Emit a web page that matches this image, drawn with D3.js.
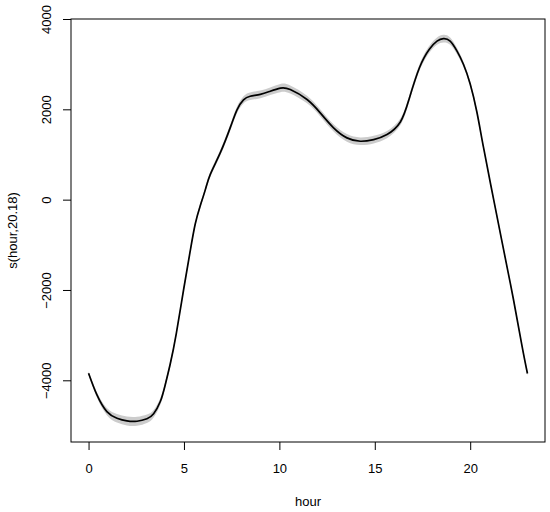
<!DOCTYPE html>
<html><head><meta charset="utf-8">
<script src="https://cdn.jsdelivr.net/npm/d3@7"></script>
<style>body{margin:0;background:#fff}svg{display:block}text{font-family:"Liberation Sans",Arial,Helvetica,sans-serif;fill:#000}</style>
</head><body>
<script>
const hours = [0, 0.44, 0.96, 1.49, 2.01, 2.54, 3.06, 3.41, 3.76, 4.0, 4.28, 4.6, 4.98, 5.33, 5.59, 5.85, 6.12, 6.38, 6.9, 7.43, 7.78, 8.12, 8.47, 9.0, 9.52, 10.05, 10.57, 11.45, 12.14, 12.84, 13.54, 14.24, 14.94, 15.64, 16.34, 16.8, 17.34, 17.86, 18.26, 18.6, 18.95, 19.31, 19.65, 20.0, 20.35, 20.7, 21.23, 21.75, 22.27, 22.71, 23.0];
const fit = [-3842, -4323, -4692, -4840, -4900, -4906, -4850, -4740, -4470, -4130, -3640, -2960, -1995, -1130, -540, -140, 222, 560, 1035, 1600, 1990, 2210, 2290, 2330, 2400, 2470, 2440, 2217, 1922, 1590, 1368, 1293, 1330, 1441, 1720, 2230, 2920, 3330, 3510, 3565, 3510, 3288, 2993, 2560, 1940, 1150, 0, -1108, -2217, -3225, -3850];
const halfWidth = [40, 60, 80, 95, 100, 100, 95, 85, 75, 65, 60, 50, 45, 45, 45, 50, 55, 60, 65, 70, 75, 80, 85, 85, 85, 90, 90, 85, 80, 80, 85, 85, 85, 80, 75, 70, 70, 75, 80, 85, 80, 70, 60, 55, 50, 45, 40, 40, 40, 45, 50];
const xTicks = [0, 5, 10, 15, 20];
const yTicks = [-4000, -2000, 0, 2000, 4000];
const xLabel = "hour";
const yLabel = "s(hour,20.18)";

const W = 550, H = 512;
const L = 71, R = 545, T = 19, B = 442;
const svg = d3.select("body").append("svg").attr("width", W).attr("height", H);

const x = d3.scaleLinear().domain([-0.92, 23.92]).range([L, R]);
const y = d3.scaleLinear().domain([-5366, 4000]).range([B, T]);

const data = hours.map((h, i) => ({h, f: fit[i], w: halfWidth[i]}));

svg.append("path").datum(data)
  .attr("d", d3.area().x(d => x(d.h)).y0(d => y(d.f - d.w)).y1(d => y(d.f + d.w)).curve(d3.curveNatural))
  .attr("fill", "#cccccc").attr("stroke", "none");

svg.append("path").datum(data)
  .attr("d", d3.line().x(d => x(d.h)).y(d => y(d.f)).curve(d3.curveNatural))
  .attr("fill", "none").attr("stroke", "#000").attr("stroke-width", 1.7);

svg.append("rect").attr("x", L).attr("y", T).attr("width", R - L).attr("height", B - T)
  .attr("fill", "none").attr("stroke", "#000").attr("stroke-width", 1);

const xa = svg.append("g").attr("transform", `translate(0,${B})`)
  .call(d3.axisBottom(x).tickValues(xTicks).tickSize(8).tickPadding(0).tickFormat(d3.format("d")));
xa.select(".domain").remove();
xa.selectAll("line").attr("stroke", "#000");
xa.selectAll("text").attr("font-size", 13).attr("dy", null).attr("y", 31).attr("font-family", "Liberation Sans, Arial, sans-serif");

const ya = svg.append("g").attr("transform", `translate(${L},0)`)
  .call(d3.axisLeft(y).tickValues(yTicks).tickSize(8).tickFormat(d => d < 0 ? "\u2212" + Math.abs(d) : String(d)));
ya.select(".domain").remove();
ya.selectAll("line").attr("stroke", "#000");
ya.selectAll("text").attr("font-size", 13).attr("font-family", "Liberation Sans, Arial, sans-serif")
  .attr("x", null).attr("dy", null).attr("text-anchor", "middle")
  .attr("transform", "translate(-20,0) rotate(-90)");

svg.append("text").attr("x", (L + R) / 2).attr("y", 506).attr("text-anchor", "middle").attr("font-size", 13).text(xLabel);
svg.append("text").attr("transform", `translate(17,${(T + B) / 2}) rotate(-90)`).attr("text-anchor", "middle").attr("font-size", 13).text(yLabel);
</script>
</body></html>
